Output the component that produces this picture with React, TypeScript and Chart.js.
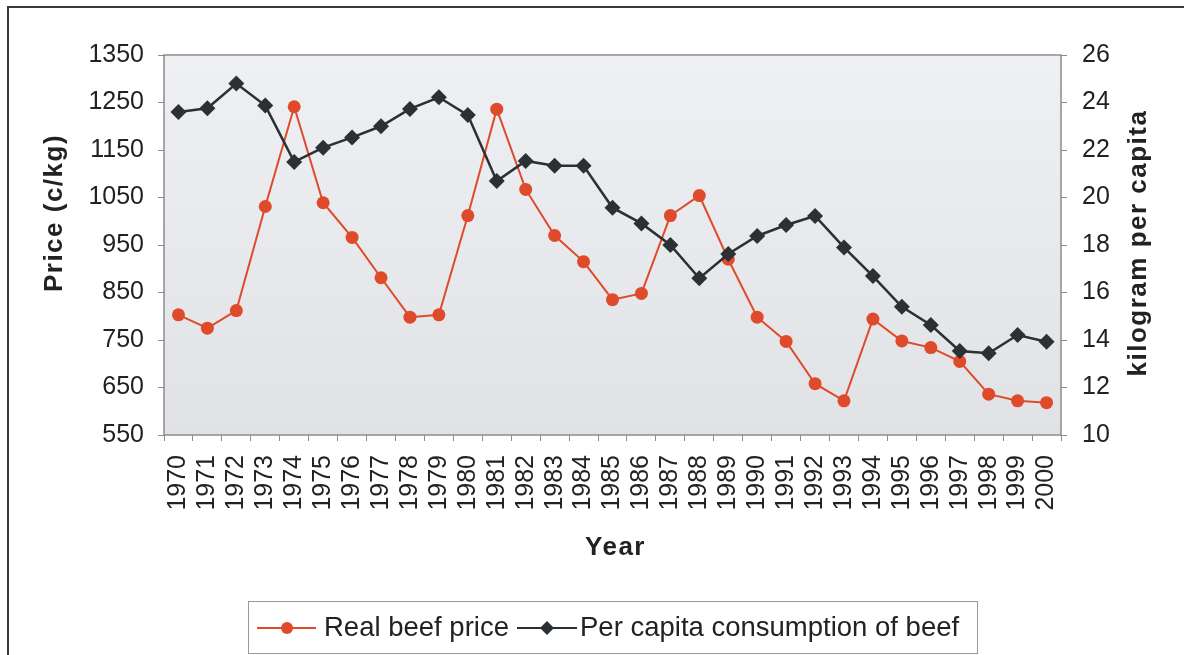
import React, { useEffect, useRef } from "react";
import { Chart, registerables } from "chart.js";

Chart.register(...registerables);

const years = [
  "1970", "1971", "1972", "1973", "1974", "1975", "1976", "1977", "1978", "1979",
  "1980", "1981", "1982", "1983", "1984", "1985", "1986", "1987", "1988", "1989",
  "1990", "1991", "1992", "1993", "1994", "1995", "1996", "1997", "1998", "1999", "2000",
];

const realBeefPrice = [
  803, 775, 812, 1031, 1241, 1039, 966, 881, 798, 803,
  1012, 1236, 1067, 970, 915, 835, 848, 1012, 1054, 920,
  798, 747, 658, 622, 794, 748, 734, 705, 636, 622, 618,
];

const perCapitaConsumption = [
  23.6, 23.76, 24.8, 23.87, 21.5, 22.1, 22.53, 23.0, 23.73, 24.22,
  23.47, 20.69, 21.54, 21.34, 21.34, 19.57, 18.91, 18.0, 16.6, 17.62,
  18.38, 18.84, 19.22, 17.9, 16.69, 15.4, 14.63, 13.54, 13.44, 14.21, 13.93,
];

const priceTicks = { min: 550, max: 1350, step: 100 };
const consumptionTicks = { min: 10, max: 26, step: 2 };

const seriesLabels = ["Real beef price", "Per capita consumption of beef"];
const axisTitles = { left: "Price (c/kg)", right: "kilogram per capita", x: "Year" };

const RED = "#df4a2b";
const DARK = "#2b3034";
const FONT = "'Liberation Sans', Arial, Helvetica, sans-serif";

const decorPlugin = {
  id: "decor",
  beforeDraw(chart: any) {
    const { ctx, chartArea: a, width, height } = chart;
    ctx.save();
    ctx.fillStyle = "#ffffff";
    ctx.fillRect(0, 0, width, height);
    const g = ctx.createLinearGradient(a.left, a.top, a.left, a.bottom);
    g.addColorStop(0, "#eef0f3");
    g.addColorStop(1, "#e0e2e5");
    ctx.fillStyle = g;
    ctx.fillRect(a.left, a.top, a.right - a.left, a.bottom - a.top);
    ctx.restore();
  },
  afterDraw(chart: any) {
    const { ctx, chartArea: a, width, height } = chart;
    ctx.save();
    ctx.strokeStyle = "#8c8c8c";
    ctx.lineWidth = 1.5;
    ctx.strokeRect(a.left, a.top, a.right - a.left, a.bottom - a.top);

    ctx.strokeStyle = "#3a3a3a";
    ctx.lineWidth = 2;
    ctx.beginPath();
    ctx.moveTo(8, height);
    ctx.lineTo(8, 7);
    ctx.lineTo(width, 7);
    ctx.stroke();

    ctx.fillStyle = "#222";
    ctx.font = `bold 26px ${FONT}`;
    (ctx as any).letterSpacing = "1.5px";
    ctx.textAlign = "center";
    ctx.textBaseline = "middle";
    const midY = (a.top + a.bottom) / 2;
    ctx.save();
    ctx.translate(a.left - 109, midY - 32);
    ctx.rotate(-Math.PI / 2);
    ctx.fillText(axisTitles.left, 0, 0);
    ctx.restore();
    ctx.save();
    ctx.translate(a.right + 78, midY - 2);
    ctx.rotate(-Math.PI / 2);
    ctx.fillText(axisTitles.right, 0, 0);
    ctx.restore();
    ctx.fillText(axisTitles.x, (a.left + a.right) / 2 + 3, a.bottom + 113);
    (ctx as any).letterSpacing = "0px";

    const bx = 248, by = 601, bw = 729, bh = 52;
    ctx.strokeStyle = "#9a9a9a";
    ctx.lineWidth = 1;
    ctx.strokeRect(bx + 0.5, by + 0.5, bw, bh);
    const cy = by + bh / 2 + 1;
    ctx.font = `27.5px ${FONT}`;
    ctx.textAlign = "left";
    ctx.textBaseline = "middle";
    ctx.strokeStyle = RED;
    ctx.lineWidth = 2;
    ctx.beginPath();
    ctx.moveTo(257, cy);
    ctx.lineTo(316, cy);
    ctx.stroke();
    ctx.fillStyle = RED;
    ctx.beginPath();
    ctx.arc(287, cy, 6, 0, Math.PI * 2);
    ctx.fill();
    ctx.fillStyle = "#222";
    ctx.fillText(seriesLabels[0], 324, cy);
    ctx.strokeStyle = DARK;
    ctx.lineWidth = 2;
    ctx.beginPath();
    ctx.moveTo(517, cy);
    ctx.lineTo(577, cy);
    ctx.stroke();
    ctx.fillStyle = DARK;
    ctx.beginPath();
    ctx.moveTo(547, cy - 7);
    ctx.lineTo(554, cy);
    ctx.lineTo(547, cy + 7);
    ctx.lineTo(540, cy);
    ctx.closePath();
    ctx.fill();
    ctx.fillStyle = "#222";
    ctx.fillText(seriesLabels[1], 580, cy);
    ctx.restore();
  },
};

export default function App() {
  const ref = useRef<HTMLCanvasElement | null>(null);

  useEffect(() => {
    if (!ref.current) return;
    const chart = new Chart(ref.current, {
      type: "line",
      data: {
        labels: years,
        datasets: [
          {
            label: seriesLabels[0],
            data: realBeefPrice,
            yAxisID: "y",
            borderColor: RED,
            backgroundColor: RED,
            borderWidth: 2,
            pointRadius: 6.5,
            pointStyle: "circle",
            pointBackgroundColor: RED,
            pointBorderColor: RED,
            pointBorderWidth: 0,
            tension: 0,
            order: 1,
          },
          {
            label: seriesLabels[1],
            data: perCapitaConsumption,
            yAxisID: "y1",
            borderColor: DARK,
            backgroundColor: DARK,
            borderWidth: 2.5,
            pointRadius: 8,
            pointStyle: "rectRot",
            pointBackgroundColor: DARK,
            pointBorderColor: DARK,
            pointBorderWidth: 0,
            tension: 0,
            order: 0,
          },
        ],
      },
      options: {
        responsive: false,
        animation: false,
        layout: { padding: { top: 55, left: 0, right: 0, bottom: 0 } },
        plugins: {
          legend: { display: false },
          tooltip: { enabled: false },
          title: { display: false },
        },
        scales: {
          x: {
            type: "category",
            offset: true,
            grid: {
              offset: true,
              drawOnChartArea: false,
              drawTicks: true,
              tickLength: 6,
              color: "#8c8c8c",
            },
            border: { display: false },
            ticks: {
              autoSkip: false,
              maxRotation: 90,
              minRotation: 90,
              padding: 14,
              color: "#222",
              font: { family: FONT, size: 25 },
            },
            afterFit(scale: any) {
              scale.height = 655 - 435;
            },
          },
          y: {
            type: "linear",
            position: "left",
            min: priceTicks.min,
            max: priceTicks.max,
            ticks: {
              stepSize: priceTicks.step,
              padding: 14,
              color: "#222",
              font: { family: FONT, size: 25 },
              callback: (v: any) => String(v),
            },
            grid: {
              drawOnChartArea: false,
              drawTicks: true,
              tickLength: 6,
              color: "#8c8c8c",
            },
            border: { display: false },
            afterFit(scale: any) {
              scale.width = 164;
            },
          },
          y1: {
            type: "linear",
            position: "right",
            min: consumptionTicks.min,
            max: consumptionTicks.max,
            ticks: {
              stepSize: consumptionTicks.step,
              padding: 15,
              color: "#222",
              font: { family: FONT, size: 25 },
              callback: (v: any) => String(v),
            },
            grid: {
              drawOnChartArea: false,
              drawTicks: true,
              tickLength: 6,
              color: "#8c8c8c",
            },
            border: { display: false },
            afterFit(scale: any) {
              scale.width = 1184 - 1061;
            },
          },
        },
      },
      plugins: [decorPlugin],
    });
    return () => chart.destroy();
  }, []);

  return (
    <div style={{ position: "absolute", left: 0, top: 0, width: 1184, height: 655, background: "#fff" }}>
      <canvas ref={ref} width={1184} height={655} style={{ display: "block" }} />
    </div>
  );
}
